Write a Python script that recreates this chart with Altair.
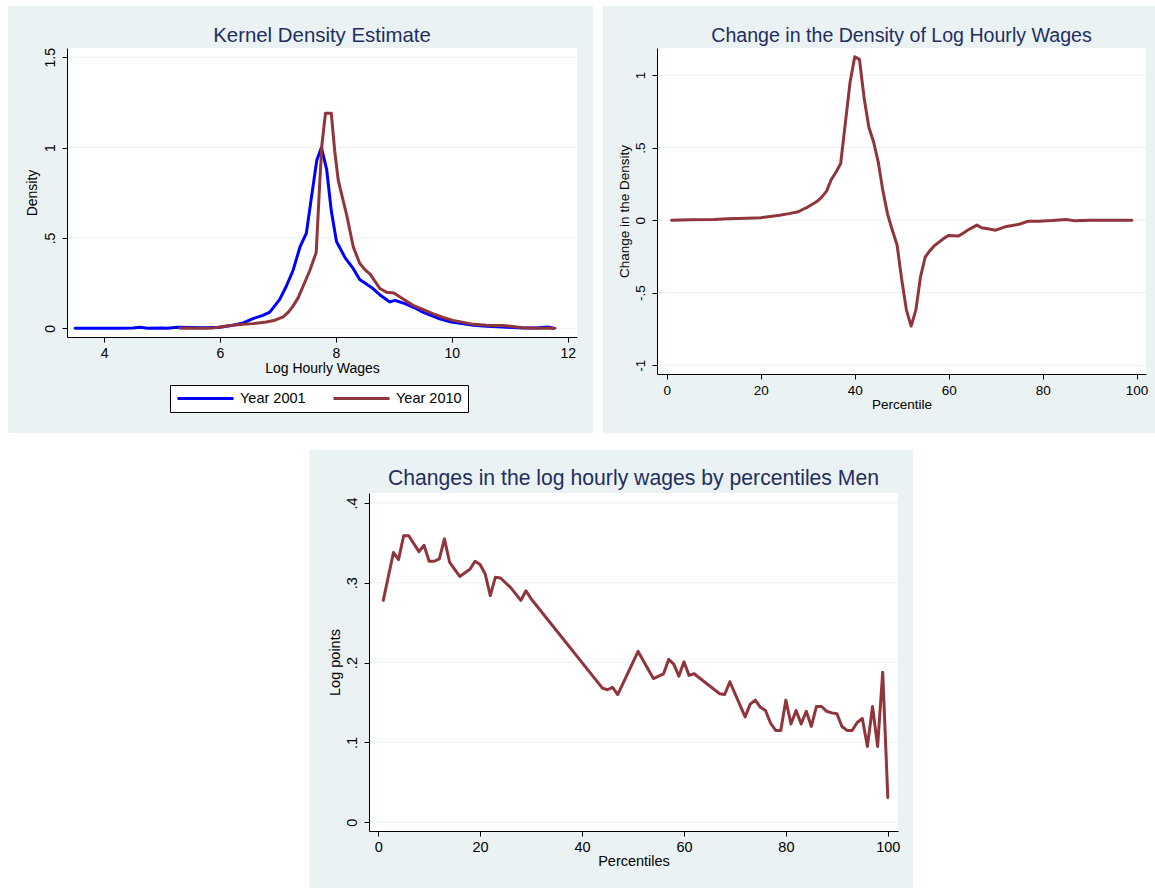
import altair as alt
import pandas as pd

FONT = "Liberation Sans"
BG = "#EAF2F3"
MAROON = "#90353B"
BLUE = "#0000FF"
TITLE_COLOR = "#1F2F5E"

# ---------------- Panel 1: kernel density estimates ----------------
wage_2001 = [3.5, 3.75, 4.0, 4.25, 4.5, 4.62, 4.75, 5.0, 5.1, 5.25, 5.5, 5.75, 6.0,
             6.22, 6.4, 6.57, 6.74, 6.86, 7.03, 7.14, 7.26, 7.38, 7.49, 7.58, 7.67,
             7.75, 7.84, 7.92, 8.01, 8.16, 8.3, 8.41, 8.64, 8.78, 8.93, 9.02, 9.19,
             9.35, 9.5, 9.65, 9.79, 9.99, 10.2, 10.37, 10.6, 10.88, 11.05, 11.22,
             11.45, 11.66, 11.75]
dens_2001 = [0.0, 0.001, 0.0, 0.0, 0.002, 0.006, 0.001, 0.002, 0.0, 0.006, 0.004,
             0.003, 0.006, 0.017, 0.03, 0.054, 0.072, 0.09, 0.16, 0.23, 0.32, 0.45,
             0.526, 0.73, 0.93, 1.0, 0.88, 0.65, 0.48, 0.39, 0.33, 0.27, 0.22, 0.18,
             0.146, 0.155, 0.137, 0.115, 0.09, 0.07, 0.053, 0.035, 0.025, 0.017,
             0.012, 0.007, 0.004, 0.002, 0.002, 0.007, 0.0]

wage_2010 = [5.31, 5.6, 5.88, 6.05, 6.22, 6.4, 6.57, 6.8, 6.95, 7.09, 7.18, 7.26,
             7.35, 7.43, 7.55, 7.66, 7.72, 7.76, 7.82, 7.92, 7.98, 8.04, 8.1, 8.18,
             8.3, 8.41, 8.5, 8.59, 8.76, 8.87, 9.0, 9.1, 9.33, 9.5, 9.68, 9.85,
             10.02, 10.2, 10.37, 10.6, 10.88, 11.05, 11.22, 11.5, 11.78]
dens_2010 = [0.0, 0.001, 0.002, 0.01, 0.017, 0.022, 0.026, 0.035, 0.045, 0.063,
             0.09, 0.123, 0.17, 0.23, 0.32, 0.42, 0.8, 1.02, 1.19, 1.19, 0.98, 0.82,
             0.74, 0.635, 0.45, 0.36, 0.325, 0.3, 0.22, 0.2, 0.195, 0.175, 0.127,
             0.105, 0.08, 0.06, 0.044, 0.033, 0.022, 0.017, 0.016, 0.01, 0.003,
             0.001, 0.0]

# ---------------- Panel 2: change in density by percentile ----------------
pct_change = [1, 5, 10, 13, 17, 20, 22, 24, 26, 28, 29, 30, 32, 33, 34, 35, 36, 37,
              38, 39, 40, 41, 42, 43, 44, 45, 46, 47, 48, 49, 50, 51, 52, 53, 54, 55,
              56, 57, 58, 59, 60, 62, 63, 64, 66, 67, 68, 70, 72, 75, 77, 79, 82, 85,
              87, 90, 95, 99]
density_change = [0.0, 0.002, 0.005, 0.01, 0.013, 0.017, 0.025, 0.034, 0.045, 0.058,
                  0.075, 0.09, 0.13, 0.16, 0.2, 0.28, 0.33, 0.39, 0.67, 0.95, 1.126,
                  1.108, 0.84, 0.64, 0.54, 0.4, 0.2, 0.04, -0.07, -0.17, -0.41, -0.62,
                  -0.73, -0.62, -0.39, -0.254, -0.21, -0.175, -0.15, -0.125, -0.105,
                  -0.11, -0.092, -0.07, -0.034, -0.052, -0.058, -0.069, -0.046, -0.028,
                  -0.007, -0.007, -0.003, 0.004, -0.005, 0.0, 0.0, 0.0]

# ---------------- Panel 3: log wage change by percentile (men) ----------------
pct_men = [1, 3, 4, 5, 6, 8, 9, 10, 11, 12, 13, 14, 16, 18, 19, 20, 21, 22, 23, 24,
           26, 28, 29, 30, 44, 45, 46, 47, 51, 54, 56, 57, 58, 59, 60, 61, 62, 67, 68,
           69, 72, 73, 74, 75, 76, 77, 78, 79, 80, 81, 82, 83, 84, 85, 86, 87, 88, 89,
           90, 91, 92, 93, 94, 95, 96, 97, 98, 99, 100]
logpts_men = [0.278, 0.338, 0.329, 0.359, 0.359, 0.339, 0.347, 0.327, 0.327, 0.33,
              0.355, 0.326, 0.308, 0.317, 0.327, 0.323, 0.311, 0.284, 0.307, 0.306,
              0.294, 0.278, 0.29, 0.28, 0.168, 0.166, 0.169, 0.16, 0.214, 0.18, 0.186,
              0.204, 0.198, 0.183, 0.201, 0.184, 0.186, 0.161, 0.16, 0.176, 0.132,
              0.148, 0.153, 0.144, 0.14, 0.124, 0.115, 0.115, 0.153, 0.123, 0.14,
              0.123, 0.139, 0.12, 0.145, 0.145, 0.139, 0.137, 0.136, 0.12, 0.115,
              0.115, 0.125, 0.13, 0.095, 0.145, 0.095, 0.188, 0.031]

LABEL_EXPR = "replace(toString(datum.value), '0.', '.')"


def axis(title, values, fs, lpad, tpad, vertical=False):
    kw = dict(title=title, values=values, grid=False,
              labelExpr=LABEL_EXPR, domainColor="black", domainWidth=1,
              tickColor="black", tickSize=5, tickWidth=1, labelColor="black",
              titleColor="black", labelFont=FONT, titleFont=FONT,
              labelFontSize=fs, titleFontSize=fs, titleFontWeight="normal",
              labelPadding=lpad, titlePadding=tpad, zindex=1,
              labelOverlap=False, labelFlush=False)
    if vertical:
        kw.update(labelAngle=270, labelAlign="center", labelBaseline="bottom")
    return alt.Axis(**kw)


def backdrop(W, H, left, right, top, bottom, yticks, yscale, yaxis):
    one = alt.Chart(pd.DataFrame({"k": [0]}))
    bg = one.mark_rect(color=BG).encode(
        x=alt.value(-left), x2=alt.value(W + right),
        y=alt.value(-top), y2=alt.value(H + bottom))
    plot = one.mark_rect(color="white").encode(
        x=alt.value(0), x2=alt.value(W), y=alt.value(0), y2=alt.value(H))
    grid = alt.Chart(pd.DataFrame({"g": yticks})).mark_rule(
        color=BG, strokeWidth=1).encode(
        y=alt.Y("g:Q", scale=yscale, axis=yaxis),
        x=alt.value(0), x2=alt.value(W))
    return [bg, plot, grid]


def title(text, size, offset):
    return alt.TitleParams(text=text, font=FONT, fontSize=size, color=TITLE_COLOR,
                           fontWeight="normal", anchor="middle", frame="group",
                           baseline="alphabetic", offset=offset)


# ---- Panel 1 ----
W1, H1 = 510, 289
x1s = alt.Scale(domain=[3.36, 12.16], nice=False, zero=False)
y1s = alt.Scale(domain=[-0.048, 1.551], nice=False, zero=False)
y1ticks = [0, 0.5, 1, 1.5]
y1ax = axis("Density", y1ticks, 14, 5, 4, True)
df1 = pd.concat([
    pd.DataFrame({"wage": wage_2001, "dens": dens_2001, "series": "Year 2001"}),
    pd.DataFrame({"wage": wage_2010, "dens": dens_2010, "series": "Year 2010"}),
])
lines1 = alt.Chart(df1).mark_line(strokeWidth=3, strokeJoin="round", strokeCap="round").encode(
    x=alt.X("wage:Q", scale=x1s, axis=axis("Log Hourly Wages", [4, 6, 8, 10, 12], 14, 4, 1)),
    y=alt.Y("dens:Q", scale=y1s, axis=y1ax),
    color=alt.Color("series:N",
                    scale=alt.Scale(domain=["Year 2001", "Year 2010"], range=[BLUE, MAROON]),
                    legend=alt.Legend(orient="none", legendX=103, legendY=337,
                                      direction="horizontal", title=None,
                                      symbolType="stroke", symbolSize=3136,
                                      symbolStrokeWidth=3, clipHeight=15,
                                      labelFont=FONT, labelFontSize=14.5,
                                      labelColor="black", labelOffset=5,
                                      columnPadding=26, padding=6,
                                      strokeColor="black", fillColor="white")),
    detail="series:N",
)
p1 = alt.layer(*backdrop(W1, H1, 59, 16, 42, 96, y1ticks, y1s, y1ax), lines1).properties(
    width=W1, height=H1, title=title("Kernel Density Estimate", 20.4, -56))

# ---- Panel 2 ----
W2, H2 = 489, 326
x2s = alt.Scale(domain=[-2.1, 102], nice=False, zero=False)
y2s = alt.Scale(domain=[-1.06, 1.186], nice=False, zero=False)
y2ticks = [-1, -0.5, 0, 0.5, 1]
y2ax = axis("Change in the Density", y2ticks, 13.5, 5, 2, True)
df2 = pd.DataFrame({"pct": pct_change, "chg": density_change})
lines2 = alt.Chart(df2).mark_line(strokeWidth=3, color=MAROON, strokeJoin="round", strokeCap="round").encode(
    x=alt.X("pct:Q", scale=x2s, axis=axis("Percentile", [0, 20, 40, 60, 80, 100], 13.5, 4, 1)),
    y=alt.Y("chg:Q", scale=y2s, axis=y2ax),
)
p2 = alt.layer(*backdrop(W2, H2, 54, 9, 42, 59, y2ticks, y2s, y2ax), lines2).properties(
    width=W2, height=H2,
    title=title("Change in the Density of Log Hourly Wages", 19.6, -56))

# ---- Panel 3 ----
W3, H3 = 529, 338
x3s = alt.Scale(domain=[-1.8, 102], nice=False, zero=False)
y3s = alt.Scale(domain=[-0.011, 0.4125], nice=False, zero=False)
y3ticks = [0, 0.1, 0.2, 0.3, 0.4]
y3ax = axis("Log points", y3ticks, 14.5, 5, 2, True)
df3 = pd.DataFrame({"pct": pct_men, "lp": logpts_men})
lines3 = alt.Chart(df3).mark_line(strokeWidth=3, color=MAROON, strokeJoin="round", strokeCap="round").encode(
    x=alt.X("pct:Q", scale=x3s, axis=axis("Percentiles", [0, 20, 40, 60, 80, 100], 14.5, 4, 1)),
    y=alt.Y("lp:Q", scale=y3s, axis=y3ax),
)
p3 = alt.layer(*backdrop(W3, H3, 60, 15, 43, 57, y3ticks, y3s, y3ax), lines3).properties(
    width=W3, height=H3,
    title=title("Changes in the log hourly wages by percentiles Men", 21.2, -56))

spacer = alt.Chart(pd.DataFrame({"k": [0]})).mark_rect(color="white").encode(
    x=alt.value(0), x2=alt.value(242), y=alt.value(0), y2=alt.value(10)
).properties(width=242, height=10)

top = alt.hconcat(p1, p2, spacing=10, bounds="full")
bottom = alt.hconcat(spacer, p3, spacing=0, bounds="full")
chart = alt.vconcat(top, bottom, spacing=17, bounds="full").properties(
    padding={"left": 8, "top": 6, "right": 0, "bottom": 0}
).configure(background="white").configure_view(strokeWidth=0)

chart.save("out.html", embed_options={"renderer": "svg", "actions": False})
